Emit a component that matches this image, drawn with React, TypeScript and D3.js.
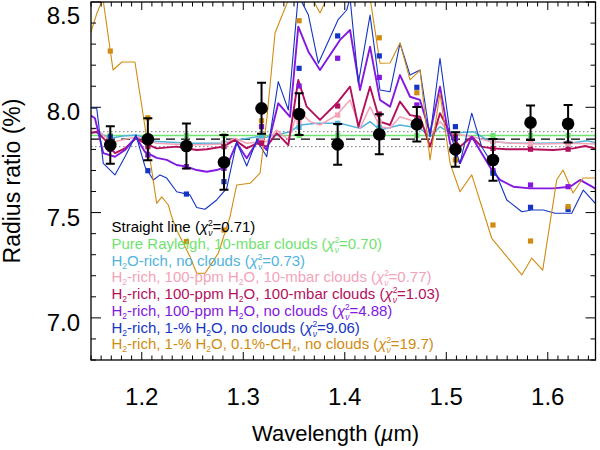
import React from "react";
import * as d3 from "d3";

// ---------- observed transmission spectrum ----------
const obsWavelength = [1.169, 1.206, 1.244, 1.281, 1.318, 1.355, 1.393, 1.434, 1.471, 1.509, 1.546, 1.583, 1.620];
const obsRadius = [7.821, 7.848, 7.816, 7.739, 7.995, 7.968, 7.824, 7.872, 7.919, 7.800, 7.750, 7.927, 7.922];
const obsError = [0.089, 0.100, 0.107, 0.130, 0.121, 0.099, 0.097, 0.095, 0.082, 0.082, 0.099, 0.082, 0.089];

// straight-line fit and its 1-sigma band
const flatValue = 7.849;
const flatLow = 7.813;
const flatHigh = 7.884;

// ---------- models ----------
const greenLam = [1.149, 1.65];
const greenVal = [7.866, 7.866];
const greenBinned = [7.866, 7.866, 7.866, 7.866, 7.866, 7.866, 7.866, 7.866, 7.866, 7.866, 7.866, 7.866, 7.866];

const cyanLam = [1.149, 1.1589, 1.1687, 1.1818, 1.195, 1.2147, 1.2475, 1.2803, 1.2935, 1.3133, 1.3231, 1.3461, 1.3559, 1.3724, 1.3953, 1.415, 1.4249, 1.4347, 1.4544, 1.4741, 1.484, 1.4938, 1.5037, 1.5266, 1.5431, 1.5661, 1.5924, 1.6252, 1.6385, 1.6495];
const cyanVal = [7.884, 7.877, 7.853, 7.864, 7.868, 7.837, 7.829, 7.829, 7.845, 7.860, 7.858, 7.884, 7.916, 7.924, 7.924, 7.900, 7.932, 7.892, 7.916, 7.900, 7.860, 7.908, 7.877, 7.884, 7.837, 7.829, 7.829, 7.832, 7.841, 7.829];
const cyanBinned = [7.856, 7.845, 7.830, 7.830, 7.860, 7.905, 7.924, 7.905, 7.905, 7.875, 7.836, 7.832, 7.831];

const pinkLam = [1.149, 1.1556, 1.1638, 1.1736, 1.195, 1.2147, 1.2475, 1.2803, 1.2919, 1.3034, 1.3231, 1.3329, 1.3444, 1.3542, 1.3658, 1.3756, 1.3921, 1.4052, 1.415, 1.4249, 1.4347, 1.4446, 1.4544, 1.4741, 1.484, 1.4938, 1.5037, 1.5266, 1.5431, 1.5661, 1.5924, 1.6252, 1.6495];
const pinkVal = [7.892, 7.900, 7.860, 7.837, 7.860, 7.829, 7.821, 7.826, 7.853, 7.829, 7.837, 7.892, 7.845, 7.987, 7.932, 7.916, 7.963, 8.035, 7.900, 8.003, 7.908, 7.900, 7.955, 7.924, 7.868, 7.932, 7.877, 7.860, 7.837, 7.829, 7.826, 7.829, 7.826];
const pinkBinned = [7.845, 7.835, 7.822, 7.826, 7.840, 7.930, 7.963, 7.930, 7.925, 7.870, 7.838, 7.828, 7.829];

const crimsonLam = [1.149, 1.1556, 1.1638, 1.1736, 1.1835, 1.1943, 1.2032, 1.2147, 1.2344, 1.2541, 1.264, 1.2803, 1.2919, 1.3034, 1.3133, 1.3231, 1.3329, 1.3444, 1.3542, 1.3625, 1.3756, 1.3921, 1.4052, 1.4134, 1.4249, 1.4347, 1.4446, 1.4544, 1.4643, 1.4741, 1.484, 1.4938, 1.5037, 1.5135, 1.5251, 1.5349, 1.5448, 1.5596, 1.5825, 1.6055, 1.6252, 1.6369, 1.6495];
const crimsonVal = [7.877, 7.884, 7.845, 7.782, 7.805, 7.853, 7.829, 7.805, 7.813, 7.797, 7.801, 7.813, 7.845, 7.805, 7.829, 7.813, 7.877, 7.821, 8.130, 8.003, 7.940, 8.019, 8.098, 7.908, 8.098, 7.932, 7.916, 8.027, 7.963, 7.955, 7.813, 7.972, 7.877, 7.813, 7.860, 7.813, 7.805, 7.801, 7.801, 7.797, 7.805, 7.816, 7.801];
const crimsonBinned = [7.800, 7.813, 7.805, 7.813, 7.830, 7.968, 8.006, 7.968, 7.940, 7.860, 7.805, 7.801, 7.801];

const purpleLam = [1.149, 1.1539, 1.1621, 1.1736, 1.1835, 1.1943, 1.2032, 1.2147, 1.2246, 1.2344, 1.2443, 1.2541, 1.264, 1.2738, 1.2837, 1.2935, 1.3034, 1.3148, 1.3231, 1.3345, 1.3461, 1.3542, 1.3642, 1.3756, 1.3953, 1.4052, 1.415, 1.4249, 1.4347, 1.4446, 1.4544, 1.4643, 1.4741, 1.484, 1.4938, 1.5037, 1.5135, 1.5251, 1.5349, 1.5448, 1.553, 1.5661, 1.5825, 1.6055, 1.6219, 1.6318, 1.6495];
const purpleVal = [7.963, 7.948, 7.782, 7.765, 7.797, 7.860, 7.788, 7.760, 7.750, 7.726, 7.718, 7.702, 7.694, 7.702, 7.719, 7.830, 7.758, 7.845, 7.797, 8.019, 7.955, 8.383, 8.264, 8.177, 8.320, 8.367, 8.082, 8.288, 8.035, 8.003, 8.153, 8.050, 8.035, 7.877, 8.098, 7.829, 7.734, 7.860, 7.782, 7.702, 7.655, 7.623, 7.615, 7.615, 7.623, 7.655, 7.607];
const purpleBinned = [7.800, 7.774, 7.718, 7.710, 7.908, 8.101, 8.233, 8.142, 8.011, 7.850, 7.699, 7.631, 7.623];

const blueLam = [1.149, 1.1556, 1.1621, 1.1736, 1.1835, 1.1943, 1.2032, 1.2114, 1.218, 1.2246, 1.2344, 1.2475, 1.2541, 1.2623, 1.2738, 1.2837, 1.2935, 1.3034, 1.3133, 1.3231, 1.3345, 1.3444, 1.3542, 1.3642, 1.374, 1.3933, 1.4019, 1.4052, 1.4134, 1.4249, 1.4347, 1.4446, 1.4544, 1.4643, 1.4741, 1.484, 1.4938, 1.5037, 1.5135, 1.5251, 1.5349, 1.5448, 1.5596, 1.5744, 1.5842, 1.5956, 1.6071, 1.6236, 1.635, 1.6483];
const blueVal = [7.995, 7.997, 7.734, 7.679, 7.765, 7.868, 7.718, 7.655, 7.679, 7.664, 7.599, 7.584, 7.524, 7.516, 7.560, 7.615, 7.835, 7.721, 7.845, 7.765, 8.122, 7.987, 8.533, 8.438, 8.209, 8.415, 8.462, 8.520, 8.115, 8.438, 8.082, 8.074, 8.304, 8.153, 8.177, 7.860, 8.233, 7.877, 7.734, 7.972, 7.813, 7.734, 7.560, 7.504, 7.512, 7.512, 7.497, 7.497, 7.607, 7.536];
const blueBinned = [7.860, 7.699, 7.588, 7.647, 8.000, 8.185, 8.339, 8.244, 8.095, 7.908, 7.687, 7.525, 7.515];

const orangeLam = [1.149, 1.1559, 1.1618, 1.1717, 1.1805, 1.1933, 1.2098, 1.2147, 1.2197, 1.2262, 1.2295, 1.2344, 1.2475, 1.2541, 1.2623, 1.2689, 1.2754, 1.2869, 1.2935, 1.3067, 1.3165, 1.3231, 1.3313, 1.3461, 1.3642, 1.3756, 1.3855, 1.4134, 1.4249, 1.4347, 1.4446, 1.4544, 1.4643, 1.4741, 1.484, 1.4938, 1.5037, 1.5135, 1.5251, 1.5448, 1.5744, 1.5842, 1.595, 1.6088, 1.615, 1.6249, 1.6347, 1.6485];
const orangeVal = [8.343, 8.448, 8.515, 8.177, 8.215, 8.215, 7.702, 7.544, 7.575, 7.536, 7.480, 7.417, 7.291, 7.212, 7.212, 7.259, 7.307, 7.480, 7.631, 7.639, 7.687, 7.940, 8.353, 8.530, 8.550, 8.448, 8.550, 8.560, 8.520, 8.209, 8.210, 8.305, 8.130, 8.177, 7.750, 8.068, 7.735, 7.599, 7.679, 7.378, 7.204, 7.284, 7.227, 7.655, 7.702, 7.593, 7.664, 7.664];
const orangeBinned = [8.267, 7.950, 7.362, 7.417, 7.936, 8.411, 8.600, 8.330, 8.069, 7.750, 7.441, 7.365, 7.528];

// ---------- legend / axes text ----------
const legendLabels = [
  "Straight line",
  "Pure Rayleigh, 10-mbar clouds",
  "H_2O-rich, no clouds",
  "H_2-rich, 100-ppm H_2O, 10-mbar clouds",
  "H_2-rich, 100-ppm H_2O, 100-mbar clouds",
  "H_2-rich, 100-ppm H_2O, no clouds",
  "H_2-rich, 1-% H_2O, no clouds",
  "H_2-rich, 1-% H_2O, 0.1%-CH_4, no clouds",
];
const legendChi = ["0.71", "0.70", "0.73", "0.77", "1.03", "4.88", "9.06", "19.7"];
const xMajorTicks = [1.2, 1.3, 1.4, 1.5, 1.6];
const yMajorTicks = [7.0, 7.5, 8.0, 8.5];
const xLabel = "Wavelength (";
const yLabel = "Radius ratio (%)";

const COLORS = {
  black: "#000000",
  green: "#6ee46e",
  cyan: "#4fb4dc",
  pink: "#f4a3b8",
  crimson: "#b3105c",
  purple: "#8318e0",
  blue: "#1434c4",
  orange: "#d08c10",
};

const models = [
  { lam: greenLam, val: greenVal, binned: greenBinned, color: COLORS.green, width: 1.5 },
  { lam: cyanLam, val: cyanVal, binned: cyanBinned, color: COLORS.cyan, width: 1.5 },
  { lam: pinkLam, val: pinkVal, binned: pinkBinned, color: COLORS.pink, width: 1.5 },
  { lam: crimsonLam, val: crimsonVal, binned: crimsonBinned, color: COLORS.crimson, width: 1.9 },
  { lam: purpleLam, val: purpleVal, binned: purpleBinned, color: COLORS.purple, width: 1.9 },
  { lam: blueLam, val: blueVal, binned: blueBinned, color: COLORS.blue, width: 1.1 },
  { lam: orangeLam, val: orangeVal, binned: orangeBinned, color: COLORS.orange, width: 1.1 },
];
const legendColors = [COLORS.black, COLORS.green, COLORS.cyan, COLORS.pink, COLORS.crimson, COLORS.purple, COLORS.blue, COLORS.orange];

const FONT = "'Liberation Sans', Arial, Helvetica, sans-serif";

function parseLabel(s: string) {
  const parts: { text: string; sub: boolean }[] = [];
  s.split(/(_\d)/).forEach((p) => {
    if (!p) return;
    if (p.startsWith("_")) parts.push({ text: p.slice(1), sub: true });
    else parts.push({ text: p, sub: false });
  });
  return parts;
}

export default function App() {
  const left = 91, right = 595.5, top = 2, bottom = 360;
  const x = d3.scaleLinear().domain([1.15, 1.647]).range([left, right]);
  const y = d3.scaleLinear().domain([6.8, 8.5]).range([bottom, top]);

  const line = (lam: number[], val: number[]) =>
    d3.line<number>().x((_, i) => x(lam[i])).y((_, i) => y(val[i]))(lam) || "";

  const xMinor = d3.range(115, 165).map((v) => v / 100);
  const yMinor = d3.range(68, 86).map((v) => v / 10);

  return (
    <svg width={600} height={450} style={{ position: "absolute", left: 0, top: 0, background: "#fff" }} fontFamily={FONT}>
      <defs>
        <clipPath id="plotclip">
          <rect x={left} y={top} width={right - left} height={bottom - top} />
        </clipPath>
      </defs>
      <rect x={0} y={0} width={600} height={450} fill="#fff" />

      <g clipPath="url(#plotclip)">
        {/* straight-line fit band */}
        <line x1={left} x2={right} y1={y(flatHigh)} y2={y(flatHigh)} stroke="#777" strokeWidth={1} strokeDasharray="1.5,2.5" />
        <line x1={left} x2={right} y1={y(flatLow)} y2={y(flatLow)} stroke="#777" strokeWidth={1} strokeDasharray="1.5,2.5" />
        <line x1={left} x2={right} y1={y(flatValue)} y2={y(flatValue)} stroke="#000" strokeWidth={1.2} strokeDasharray="9,6" />

        {models.map((m, k) => (
          <path key={"l" + k} d={line(m.lam, m.val)} fill="none" stroke={m.color} strokeWidth={m.width} strokeLinejoin="round" />
        ))}
        {models.map((m, k) =>
          m.binned.map((v, i) => (
            <rect key={"s" + k + "-" + i} x={x(obsWavelength[i]) - 2.6} y={y(v) - 2.6} width={5.2} height={5.2} fill={m.color} />
          ))
        )}

        {obsWavelength.map((w, i) => {
          const cx = x(w);
          const y1 = y(obsRadius[i] + obsError[i]);
          const y2 = y(obsRadius[i] - obsError[i]);
          return (
            <g key={"d" + i}>
              <line x1={cx} x2={cx} y1={y1} y2={y2} stroke="#000" strokeWidth={2} />
              <line x1={cx - 4.5} x2={cx + 4.5} y1={y1} y2={y1} stroke="#000" strokeWidth={2} />
              <line x1={cx - 4.5} x2={cx + 4.5} y1={y2} y2={y2} stroke="#000" strokeWidth={2} />
              <circle cx={cx} cy={y(obsRadius[i])} r={6.3} fill="#000" />
            </g>
          );
        })}
      </g>

      {/* frame */}
      <rect x={left} y={top} width={right - left} height={bottom - top} fill="none" stroke="#000" strokeWidth={1.3} />

      {/* x ticks */}
      {xMinor.map((t, i) => {
        const major = xMajorTicks.some((m) => Math.abs(m - t) < 1e-6);
        const len = major ? 8 : 4.5;
        return (
          <g key={"xt" + i}>
            <line x1={x(t)} x2={x(t)} y1={bottom} y2={bottom - len} stroke="#000" strokeWidth={1} />
            <line x1={x(t)} x2={x(t)} y1={top} y2={top + len} stroke="#000" strokeWidth={1} />
          </g>
        );
      })}
      {xMajorTicks.map((t) => (
        <text key={"xl" + t} x={x(t)} y={405} fontSize={24} textAnchor="middle" fill="#000">
          {t.toFixed(1)}
        </text>
      ))}

      {/* y ticks */}
      {yMinor.map((t, i) => {
        const major = yMajorTicks.some((m) => Math.abs(m - t) < 1e-6);
        const len = major ? 10 : 5;
        return (
          <g key={"yt" + i}>
            <line x1={left} x2={left + len} y1={y(t)} y2={y(t)} stroke="#000" strokeWidth={1} />
            <line x1={right} x2={right - len} y1={y(t)} y2={y(t)} stroke="#000" strokeWidth={1} />
          </g>
        );
      })}
      {yMajorTicks.map((t) => (
        <text key={"yl" + t} x={80} y={Math.max(y(t) + 13, top + 21.5)} fontSize={24} textAnchor="end" fill="#000">
          {t.toFixed(1)}
        </text>
      ))}

      {/* axis titles */}
      <text x={252} y={441} fontSize={22} fill="#000">
        {xLabel}
        <tspan fontStyle="italic">µ</tspan>
        {"m)"}
      </text>
      <text transform="translate(20,181) rotate(-90)" fontSize={23} textAnchor="middle" fill="#000">
        {yLabel}
      </text>

      {/* legend */}
      {legendLabels.map((lab, i) => {
        const parts = parseLabel(lab);
        let offset = 0;
        const spans: React.ReactNode[] = [];
        parts.forEach((p, j) => {
          if (p.sub) {
            spans.push(<tspan key={j} dy={3 - offset} fontSize={8.5}>{p.text}</tspan>);
            offset = 3;
          } else {
            spans.push(<tspan key={j} dy={-offset}>{p.text}</tspan>);
            offset = 0;
          }
        });
        return (
          <text key={"lg" + i} x={111.5} y={232.3 + i * 16.7} fontSize={15} fill={legendColors[i]}>
            {spans}
            <tspan dy={-offset}>{" ("}</tspan>
            <tspan fontStyle="italic">χ</tspan>
            <tspan fontSize={8.5} dy={-6}>2</tspan>
            <tspan fontSize={8.5} dx={-4.7} dy={10} fontStyle="italic">ν</tspan>
            <tspan dy={-4}>{"=" + legendChi[i] + ")"}</tspan>
          </text>
        );
      })}
    </svg>
  );
}
